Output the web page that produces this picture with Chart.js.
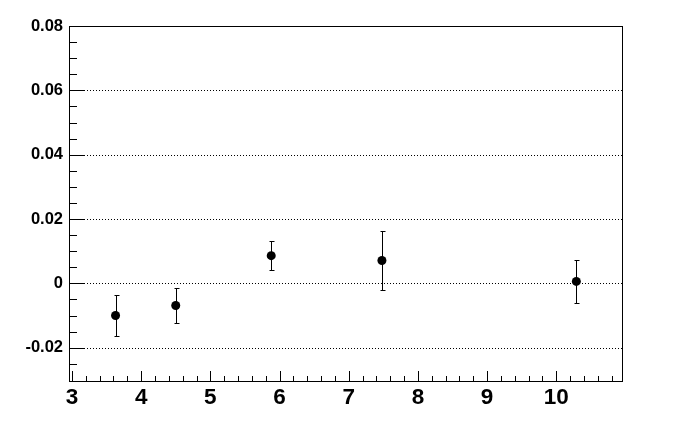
<!DOCTYPE html>
<html>
<head>
<meta charset="utf-8">
<script src="https://cdn.jsdelivr.net/npm/chart.js@4.4.0/dist/chart.umd.min.js"></script>
<style>body{margin:0;background:#fff}</style>
</head>
<body>
<canvas id="c" width="692" height="444"></canvas>
<script>
const xVals = [3.63, 4.50, 5.88, 7.48, 10.29];
const yVals = [-0.0100, -0.0069, 0.0086, 0.0071, 0.0006];
const yErrs = [0.0063, 0.0054, 0.0045, 0.0092, 0.0067];
const xTicks = [3, 4, 5, 6, 7, 8, 9, 10];
const yTicks = [-0.02, 0, 0.02, 0.04, 0.06, 0.08];

// ROOT style frame: dotted grid, ticks inside, error bars
const rootFrame = {
	id: 'rootFrame',
	beforeDatasetsDraw(chart) {
		const { ctx, chartArea: a, scales: { x, y } } = chart;
		ctx.save();
		ctx.strokeStyle = '#000';
		ctx.lineWidth = 1;
		ctx.setLineDash([1, 2]);
		yTicks.forEach(v => {
			if (v >= 0.079) return;
			const py = Math.round(y.getPixelForValue(v)) + 0.5;
			ctx.beginPath();
			ctx.moveTo(a.left, py);
			ctx.lineTo(a.right, py);
			ctx.stroke();
		});
		ctx.setLineDash([]);

		// x ticks
		for (let i = 15; i <= 54; i++) {
			const px = Math.round(x.getPixelForValue(i / 5)) + 0.5;
			const len = i % 5 == 0 ? 10 : 5;
			ctx.beginPath();
			ctx.moveTo(px, a.bottom);
			ctx.lineTo(px, a.bottom - len);
			ctx.stroke();
		}
		// y ticks
		for (let i = -5; i <= 16; i++) {
			const py = Math.round(y.getPixelForValue(i * 0.005)) + 0.5;
			const len = i % 4 == 0 ? 16 : 8;
			ctx.beginPath();
			ctx.moveTo(a.left, py);
			ctx.lineTo(a.left + len, py);
			ctx.stroke();
		}

		// error bars
		xVals.forEach((xv, i) => {
			const px = Math.round(x.getPixelForValue(xv)) + 0.5;
			const top = Math.round(y.getPixelForValue(yVals[i] + yErrs[i])) + 0.5;
			const bot = Math.round(y.getPixelForValue(yVals[i] - yErrs[i])) + 0.5;
			ctx.beginPath();
			ctx.moveTo(px, top);
			ctx.lineTo(px, bot);
			ctx.moveTo(px - 2, top);
			ctx.lineTo(px + 3, top);
			ctx.moveTo(px - 2, bot);
			ctx.lineTo(px + 3, bot);
			ctx.stroke();
		});
		ctx.restore();
	},
	afterDatasetsDraw(chart) {
		const { ctx, chartArea: a } = chart;
		ctx.save();
		ctx.strokeStyle = '#000';
		ctx.lineWidth = 1;
		ctx.strokeRect(a.left + 0.5, a.top + 0.5, a.right - a.left, a.bottom - a.top);
		ctx.restore();
	}
};

const ctx = document.getElementById('c').getContext('2d');
const chart = new Chart(ctx, {
	type: 'scatter',
	data: {
		datasets: [{
			data: xVals.map((v, i) => ({ x: v, y: yVals[i] })),
			backgroundColor: '#000',
			borderWidth: 0,
			pointRadius: 4.5,
		}],
	},
	options: {
		responsive: false,
		animation: false,
		layout: { padding: { top: 26, right: 70, left: 0, bottom: 0 } },
		plugins: { legend: { display: false }, tooltip: { enabled: false } },
		scales: {
			x: {
				type: 'linear',
				min: 2.957,
				max: 10.950,
				grid: { display: false, drawTicks: false },
				border: { display: false },
				afterBuildTicks: s => { s.ticks = xTicks.map(v => ({ value: v })); },
				afterFit: s => { s.height = 63; },
				ticks: {
					color: '#000',
					padding: 3,
					maxRotation: 0,
					font: { family: 'Liberation Sans', size: 22.5, weight: 'bold' },
					callback: v => String(v),
				},
			},
			y: {
				type: 'linear',
				min: -0.03036,
				max: 0.08,
				grid: { display: false, drawTicks: false },
				border: { display: false },
				afterBuildTicks: s => { s.ticks = yTicks.map(v => ({ value: v })); },
				afterFit: s => { s.width = 69; },
				ticks: {
					color: '#000',
					padding: 6,
					font: { family: 'Liberation Sans', size: 16.5, weight: 'bold' },
					callback: v => Math.abs(v) < 1e-9 ? '0' : v.toFixed(2),
				},
			},
		},
	},
	plugins: [rootFrame],
});
</script>
</body>
</html>
